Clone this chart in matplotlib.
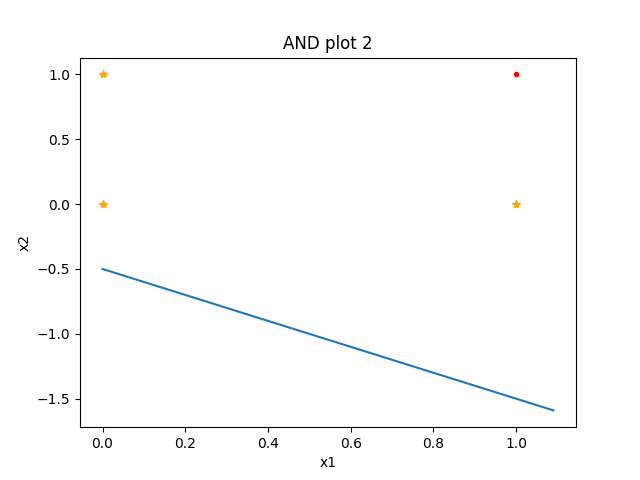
import matplotlib
matplotlib.use('Agg')
import matplotlib.pyplot as plt

star_x = [0, 0, 1]
star_y = [0, 1, 0]
dot_x = [1]
dot_y = [1]
line_x = [0.0, 1.09]
line_y = [-0.5, -1.59]

plt.figure(figsize=(6.4, 4.8), dpi=100)
plt.plot(star_x, star_y, '*', color='orange')
plt.plot(dot_x, dot_y, 'r.')
plt.plot(line_x, line_y)
plt.xlabel('x1')
plt.ylabel('x2')
plt.title('AND plot 2')
plt.savefig('out.png')
